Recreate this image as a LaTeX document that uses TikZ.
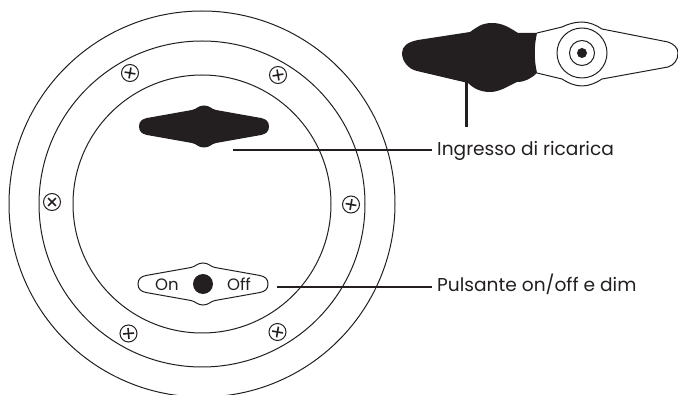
\documentclass[tikz,border=0pt]{standalone}
\usepackage{fontspec}
\setmainfont{Poppins}
\usepackage{xcolor}
\definecolor{inkdark}{HTML}{231F20}
\tikzset{
	ring/.style={draw=inkdark, line width=1pt},
	leader/.style={draw=inkdark, line width=2.2pt},
	callout/.style={anchor=base west, inner sep=0pt, text=inkdark, font=\fontsize{18.6}{22}\selectfont},
	keytext/.style={anchor=base, inner sep=0pt, text=inkdark, font=\fontsize{16.5}{20}\selectfont},
}
\newcommand{\screwat}[3]{%
	\node[draw=inkdark, line width=1pt, circle, minimum size=17pt, inner sep=0pt] (#3) at (#1) {};
	\draw[inkdark, line width=1.6pt, rotate around={#2:(#1)}] ($(#1)+(-5.5,0)$) -- ($(#1)+(5.5,0)$);
	\draw[inkdark, line width=1.6pt, rotate around={#2:(#1)}] ($(#1)+(0,-5.5)$) -- ($(#1)+(0,5.5)$);
}
\newcommand{\handleshape}{(-65,0) .. controls (-65,-5) and (-62,-7.5) .. (-57,-8.5) -- (-12,-16.5)
	.. controls (-7,-17.5) and (-6,-21) .. (0,-21) .. controls (6,-21) and (7,-17.5) .. (12,-16.5)
	-- (57,-8.5) .. controls (62,-7.5) and (65,-5) .. (65,0)
	.. controls (65,5) and (62,7.5) .. (57,8.5) -- (12,16.5)
	.. controls (7,17.5) and (6,21) .. (0,21) .. controls (-6,21) and (-7,17.5) .. (-12,16.5)
	-- (-57,8.5) .. controls (-62,7.5) and (-65,5) .. (-65,0) -- cycle}
\usetikzlibrary{calc}
\begin{document}
\begin{tikzpicture}[x=1pt, y=-1pt]
	\useasboundingbox (0,0) rectangle (678,395);
	\coordinate (hub) at (202,204);
	\begin{scope}
		\clip (0,0) rectangle (678,395);
		\draw[ring] (hub) circle[radius=193];
	\end{scope}
	% body
	\draw[ring] (hub) circle[radius=163];
	\draw[ring] (hub) circle[radius=129];
	\screwat{130,73}{-10}{screwa}
	\screwat{278,75}{10}{screwb}
	\screwat{351,204.5}{-10}{screwc}
	\screwat{277.5,332}{-10}{screwd}
	\screwat{128.5,333.5}{5}{screwe}
	\screwat{52,202}{45}{screwf}
	% handles on the body
	\begin{scope}[shift={(204,126.5)}]
		\fill[inkdark] \handleshape;
	\end{scope}
	\begin{scope}[shift={(203,284)}]
		\draw[inkdark, line width=1pt] \handleshape;
	\end{scope}
	\node[circle, fill=inkdark, minimum size=20pt, inner sep=0pt] (dot) at (203,284) {};
	\node[keytext] (onkey) at (167,291) {On};
	\node[keytext] (offkey) at (239,291) {Off};
	% side view
	\fill[inkdark] (537,33) -- (518,33) .. controls (510,28) and (503,23) .. (492,23)
		.. controls (481,23) and (476,28) .. (470,32) -- (418,40)
		.. controls (408,42) and (402,46) .. (402,53) .. controls (402,61) and (408,69) .. (417,71)
		-- (468,83) .. controls (473,88) and (480,92) .. (490,92) .. controls (500,92) and (508,86) .. (517,82)
		.. controls (525,82) and (532,78) .. (537,73) .. controls (534,60) and (534,46) .. (537,33) -- cycle;
	\draw[inkdark, line width=1pt] (537,33) -- (562,27) .. controls (568,24) and (575,22) .. (582,22)
		.. controls (589,22) and (596,25) .. (602,29) -- (668,42)
		.. controls (674,44) and (678,48) .. (678,53) .. controls (678,60) and (674,65) .. (668,67)
		-- (602,79) .. controls (596,83) and (589,86) .. (582,86)
		.. controls (575,86) and (568,83) .. (562,79) -- (537,73);
	\draw[ring] (582,53) circle[radius=25];
	\draw[ring] (582,53) circle[radius=12.5];
	\fill[inkdark] (582,53) circle[radius=5];
	% labels
	\node[callout] (charge) at (437,156) {Ingresso di ricarica};
	\node[callout] (power) at (437,292) {Pulsante on/off e dim};
	\coordinate (chargestart) at (233,150);
	\coordinate (chargeend) at (431.5,150);
	\coordinate (powerstart) at (277,287);
	\coordinate (powerend) at (431.5,287);
	\coordinate (stem) at (466.5,82);
	\coordinate (stemfoot) at (466.5,127);
	\draw[leader] (chargestart) -- (chargeend);
	\draw[leader] (powerstart) -- (powerend);
	\draw[leader] (stem) -- (stemfoot);
\end{tikzpicture}
\end{document}
